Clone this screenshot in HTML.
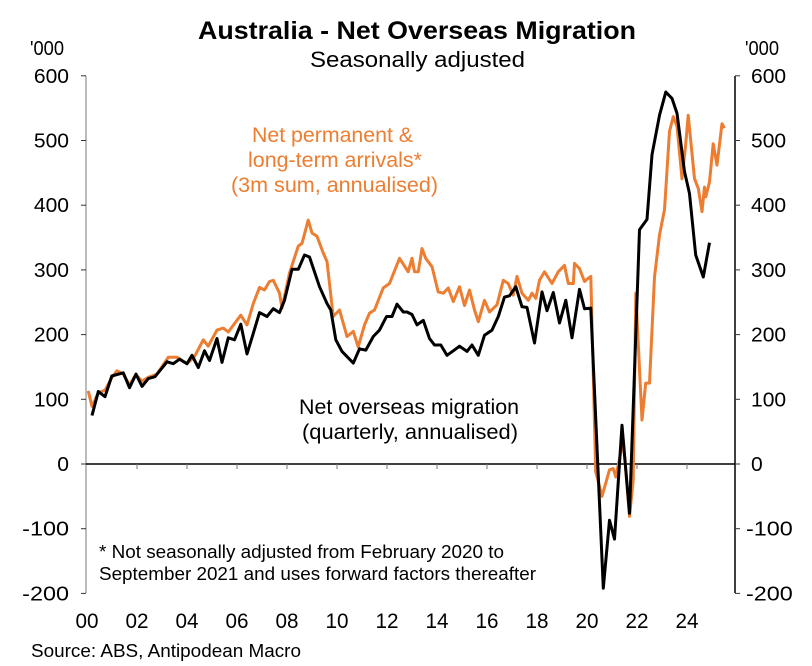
<!DOCTYPE html>
<html><head><meta charset="utf-8">
<style>
body{margin:0;background:#fff;}
svg{display:block;font-family:"Liberation Sans",Arial,sans-serif;}
</style></head>
<body>
<svg id="chart" width="812" height="666" viewBox="0 0 812 666">
<text x="198" y="39" font-size="25" font-weight="bold" textLength="438" lengthAdjust="spacingAndGlyphs">Australia - Net Overseas Migration</text>
<text x="310" y="67" font-size="22" textLength="215" lengthAdjust="spacingAndGlyphs">Seasonally adjusted</text>
<text x="30" y="55" font-size="20" textLength="34" lengthAdjust="spacingAndGlyphs">'000</text>
<text x="745" y="55" font-size="20" textLength="34" lengthAdjust="spacingAndGlyphs">'000</text>
<g id="axes"></g>
<g id="series"></g>
<text x="252" y="142" font-size="21" fill="#ED7D31" textLength="161" lengthAdjust="spacingAndGlyphs">Net permanent &amp;</text>
<text x="248" y="167" font-size="21" fill="#ED7D31" textLength="174" lengthAdjust="spacingAndGlyphs">long-term arrivals*</text>
<text x="231" y="192" font-size="21" fill="#ED7D31" textLength="207" lengthAdjust="spacingAndGlyphs">(3m sum, annualised)</text>
<text x="299" y="414" font-size="21" textLength="220" lengthAdjust="spacingAndGlyphs">Net overseas migration</text>
<text x="302" y="439" font-size="21" textLength="216" lengthAdjust="spacingAndGlyphs">(quarterly, annualised)</text>
<text x="99" y="558" font-size="18" textLength="405" lengthAdjust="spacingAndGlyphs">* Not seasonally adjusted from February 2020 to</text>
<text x="99" y="580" font-size="18" textLength="437" lengthAdjust="spacingAndGlyphs">September 2021 and uses forward factors thereafter</text>
<text x="31" y="657" font-size="18" textLength="270" lengthAdjust="spacingAndGlyphs">Source: ABS, Antipodean Macro</text>
</svg>
<script>
const yTicks=[600,500,400,300,200,100,0,-100,-200];
const xLabels=["00","02","04","06","08","10","12","14","16","18","20","22","24"];
const xLabelYears=[2000,2002,2004,2006,2008,2010,2012,2014,2016,2018,2020,2022,2024];
const nomDates=[2000.2,2000.45,2000.72,2000.99,2001.45,2001.7,2001.96,2002.2,2002.45,2002.72,2003.2,2003.45,2003.7,2004.0,2004.2,2004.45,2004.7,2004.9,2005.2,2005.4,2005.65,2005.9,2006.15,2006.4,2006.65,2006.9,2007.2,2007.45,2007.7,2007.9,2008.2,2008.45,2008.7,2008.9,2009.3,2009.6,2009.75,2009.95,2010.2,2010.65,2010.9,2011.15,2011.45,2011.7,2011.98,2012.2,2012.4,2012.65,2012.8,2013.0,2013.2,2013.45,2013.7,2013.9,2014.15,2014.4,2014.65,2014.9,2015.2,2015.4,2015.65,2015.9,2016.2,2016.45,2016.7,2016.9,2017.15,2017.4,2017.6,2017.9,2018.2,2018.4,2018.65,2018.9,2019.15,2019.4,2019.7,2019.9,2020.15,2020.65,2020.9,2021.1,2021.4,2021.7,2022.1,2022.4,2022.6,2022.9,2023.15,2023.4,2023.6,2023.9,2024.1,2024.35,2024.65,2024.9];
const nomValues=[75,112,104,136,141,118,139,120,132,135,158,155,162,155,168,149,175,160,194,157,195,192,216,170,202,234,228,240,234,253,301,301,323,320,274,248,238,192,174,156,178,176,197,207,228,228,247,235,235,231,215,222,194,184,184,168,175,182,174,184,168,199,207,228,258,260,274,243,242,187,266,237,265,218,253,195,270,240,241,-192,-87,-116,60,-76,362,378,478,539,575,565,542,452,418,323,289,342];
const arrDates=[2000.05,2000.2,2000.45,2000.72,2001.0,2001.2,2001.45,2001.7,2001.95,2002.2,2002.45,2002.8,2003.25,2003.6,2004.0,2004.3,2004.65,2004.85,2005.2,2005.45,2005.65,2005.9,2006.15,2006.4,2006.65,2006.9,2007.1,2007.3,2007.45,2007.7,2007.8,2008.1,2008.45,2008.6,2008.85,2009.0,2009.2,2009.45,2009.6,2009.85,2010.1,2010.4,2010.65,2010.85,2011.1,2011.3,2011.5,2011.85,2012.1,2012.5,2012.85,2013.0,2013.1,2013.25,2013.4,2013.55,2013.8,2014.05,2014.25,2014.45,2014.65,2014.9,2015.1,2015.3,2015.5,2015.65,2015.9,2016.1,2016.4,2016.65,2016.85,2017.05,2017.2,2017.4,2017.65,2017.8,2017.95,2018.1,2018.3,2018.6,2018.85,2019.1,2019.25,2019.45,2019.5,2019.7,2019.9,2020.05,2020.15,2020.35,2020.6,2020.9,2021.05,2021.15,2021.45,2021.7,2021.85,2021.95,2022.2,2022.35,2022.5,2022.7,2022.9,2023.1,2023.3,2023.45,2023.6,2023.8,2023.95,2024.05,2024.3,2024.45,2024.6,2024.7,2024.75,2024.9,2025.05,2025.2,2025.4,2025.5];
const arrValues=[113,89,110,114,134,144,139,122,138,128,134,139,165,165,155,166,192,182,207,210,204,217,230,215,248,273,269,282,284,264,241,295,337,341,377,357,352,326,313,228,238,197,205,181,215,233,238,272,279,318,297,318,297,297,333,318,305,266,264,272,251,274,245,269,238,220,253,235,246,284,279,261,290,264,253,264,256,284,297,279,297,307,279,279,310,302,282,287,290,-12,-50,-9,-7,-20,37,-81,-25,264,68,125,125,289,354,393,514,537,522,441,496,539,441,426,390,428,413,436,495,462,526,519];

const X0=87,PXY=25,Y0=464,PXV=0.647,L=86,R=735,T=76,B=593;
function xs(t){return X0+(t-2000)*PXY;}
function ys(v){return Y0-v*PXV;}
const NS="http://www.w3.org/2000/svg";
function mk(tag,attrs,parent){const e=document.createElementNS(NS,tag);for(const k in attrs)e.setAttribute(k,attrs[k]);parent.appendChild(e);return e;}
const ax=document.getElementById('axes');
let e;
e=mk('line',{x1:L,y1:T,x2:L,y2:B,stroke:'#a6a6a6','stroke-width':1.5},ax);


e=mk('line',{x1:R,y1:T,x2:R,y2:B,stroke:'#000','stroke-width':1.5},ax);


e=mk('line',{x1:L,y1:ys(0),x2:R,y2:ys(0),stroke:'#000','stroke-width':1.5},ax);


yTicks.forEach(v=>{
  const y=ys(v);
  const s=String(v);
  const w=s.length*11.7;
  e=mk('line',{x1:L-5,y1:y,x2:L,y2:y,stroke:'#333','stroke-width':1},ax);
  
  
  e=mk('line',{x1:R,y1:y,x2:R+5,y2:y,stroke:'#333','stroke-width':1},ax);
  
  
  e=mk('text',{x:69-w,y:y+7,'font-size':20,textLength:w,lengthAdjust:'spacingAndGlyphs'},ax);
  e.textContent=s;
  
  
  e=mk('text',{x:v<0?746:751,y:y+7,'font-size':20,textLength:w,lengthAdjust:'spacingAndGlyphs'},ax);
  e.textContent=s;
  
  
});
xLabelYears.forEach((yr,i)=>{
  const x=xs(yr);
  if(i>0){e=mk('line',{x1:x,y1:ys(0),x2:x,y2:ys(0)+5,stroke:'#777','stroke-width':1},ax);
  
  }
  e=mk('text',{x:x-11.5,y:628,'font-size':21,textLength:23,lengthAdjust:'spacingAndGlyphs'},ax);
  e.textContent=xLabels[i];
  
  
});
const sg=document.getElementById('series');
function path(d,v){return d.map((t,i)=>(i?'L':'M')+xs(t).toFixed(1)+','+ys(v[i]).toFixed(1)).join('');}
e=mk('path',{d:path(arrDates,arrValues),fill:'none',stroke:'#ED7D31','stroke-width':3,'stroke-linejoin':'round'},sg);


e=mk('path',{d:path(nomDates,nomValues),fill:'none',stroke:'#000','stroke-width':3,'stroke-linejoin':'round'},sg);


</script>
</body></html>
